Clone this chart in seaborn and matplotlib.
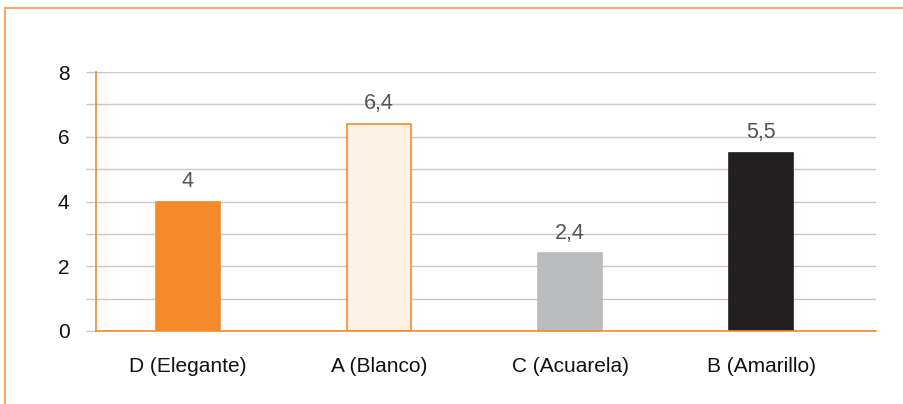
import matplotlib
matplotlib.use("Agg")
import matplotlib.pyplot as plt
import seaborn as sns
from matplotlib.patches import Rectangle

# Datos
categorias = ["D (Elegante)", "A (Blanco)", "C (Acuarela)", "B (Amarillo)"]
valores = [4.0, 6.4, 2.4, 5.5]
etiquetas = ["4", "6,4", "2,4", "5,5"]
colores = ["#F58A2A", "#FDF1E4", "#BBBCBE", "#231F20"]
bordes = ["#F58A2A", "#F58A2A", "#BBBCBE", "#231F20"]
yticks = [0, 1, 2, 3, 4, 5, 6, 7, 8]
ytick_labels = ["0", "", "2", "", "4", "", "6", "", "8"]

ORANGE = "#F58A2A"
GRID = "#C8C8C8"

sns.set_style("white")
plt.rcParams["font.family"] = ["Liberation Sans", "DejaVu Sans"]

fig = plt.figure(figsize=(9.04, 4.04), dpi=100)
ax = fig.add_axes([96 / 904, 1 - 331 / 404, 780 / 904, 259 / 404])

sns.barplot(x=categorias, y=valores, hue=categorias, palette=colores,
            saturation=1, width=0.335, legend=False, ax=ax, zorder=3)

for patch, borde in zip(ax.patches, bordes):
    patch.set_edgecolor(borde)
    patch.set_linewidth(1.2)

for i, (v, txt) in enumerate(zip(valores, etiquetas)):
    ax.annotate(txt, (i, v), xytext=(0, 7), textcoords="offset points",
                ha="center", va="bottom", fontsize=15.5, color="#555555")

ax.set_xlim(-0.48, 3.6)
ax.set_ylim(0, 8)
ax.set_yticks(yticks)
ax.set_yticklabels(ytick_labels)
ax.yaxis.grid(True, color=GRID, linewidth=1, zorder=0)
ax.set_axisbelow(True)
ax.tick_params(axis="y", left=True, length=7, color=GRID, width=1, pad=12,
               labelsize=15, labelcolor="#111111")
ax.tick_params(axis="x", bottom=False, length=0, pad=19, labelsize=15,
               labelcolor="#111111")

for s in ["top", "right"]:
    ax.spines[s].set_visible(False)
for s in ["left", "bottom"]:
    ax.spines[s].set_color(ORANGE)
    ax.spines[s].set_linewidth(1.2)
    ax.spines[s].set_zorder(4)

ax.set_xlabel("")
ax.set_ylabel("")

# Marco naranja exterior
fig.patches.append(Rectangle((5.5 / 904, -0.2), 1.2, 1.2 - 7.5 / 404,
                             transform=fig.transFigure, fill=False,
                             edgecolor="#F7A86A", linewidth=1.5))

fig.savefig("out.png", dpi=100)
